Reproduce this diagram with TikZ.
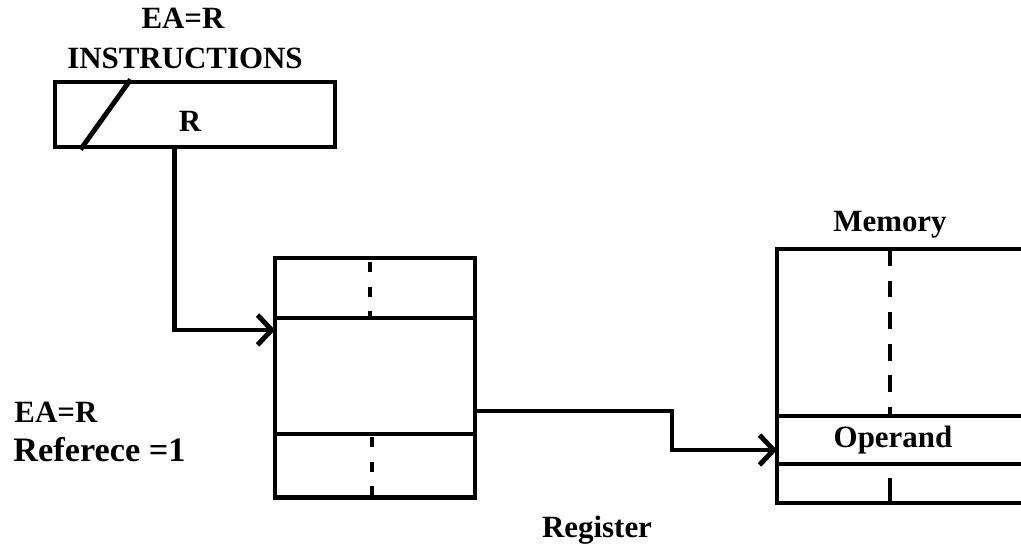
\documentclass[tikz,border=0pt]{standalone}
\usepackage{fontspec}
\setmainfont{Liberation Serif}
\usepackage{tikz}
\usetikzlibrary{arrows.meta, positioning, calc}

\begin{document}
\begin{tikzpicture}[x=0.02cm, y=-0.02cm, line width=2.8pt,
  lbl/.style={font=\bfseries\fontsize{17.6}{20}\selectfont, inner sep=0pt},
  cell/.style={draw, minimum width=4cm, inner sep=0pt, outer sep=0pt},
  dotline/.style={line width=2.4pt, dash pattern=on 5.7pt off 8.3pt},
  dashline/.style={line width=2.4pt, dash pattern=on 9.5pt off 8.5pt},
  link/.style={-{Straight Barb[length=8pt, width=17pt, line width=2.8pt]}}]
\useasboundingbox (0,0) rectangle (1021,550);

% instruction word
\node[draw, minimum width=5.6cm, minimum height=1.3cm, inner sep=0pt] (instr) at (195,114.5) {};
\node[lbl] (rfield) at (190,121) {R};
\draw ($(instr.south west)+(28,0)$) -- ($(instr.north west)+(78,0)$);
\node[lbl] (eatop) at (183,18) {EA=R};
\node[lbl] (instrlbl) at (185,58) {INSTRUCTIONS};

% register
\node[cell, minimum height=1.2cm] (regtop) at (375,288) {};
\node[cell, minimum height=2.32cm, below=0pt of regtop] (regmid) {};
\node[cell, minimum height=1.28cm, below=0pt of regmid] (regbot) {};
\draw[dotline] ($(regtop.north)+(-5,4)$) -- ($(regtop.south)+(-5,0)$);
\draw[dotline] ($(regbot.north)+(-3,3)$) -- ($(regbot.south)+(-3,0)$);
\node[lbl] (reglbl) at (597,530) {Register};

% memory
\draw (1021,249) -- (777,249) -- (777,503) -- (1021,503);
\draw (777,416) -- (1021,416);
\draw (777,464) -- (1021,464);
\draw[dashline] (890,249) -- (890,416);
\draw (890,478) -- (890,503);
\node[lbl] (memlbl) at (890,225) {Memory};
\node[lbl] (memop) at (893,440) {Operand};

% side note
\node[lbl, anchor=west] (ea) at (12,412) {EA=R};
\node[lbl, anchor=west, font=\bfseries\fontsize{19.5}{22}\selectfont] (refs) at (11,450) {Referece =1};

% connectors
\coordinate (instrout) at ($(instr.south west)+(122,0)$);
\coordinate (regin) at ($(regtop.south west)+(0,12)$);
\coordinate (regout) at ($(regmid.south east)+(0,-23)$);
\coordinate (memin) at (777,450);
\draw[link] (instrout) |- (regin);
\draw[link] (regout) -- ++(197,0) |- (memin);
\end{tikzpicture}
\end{document}
